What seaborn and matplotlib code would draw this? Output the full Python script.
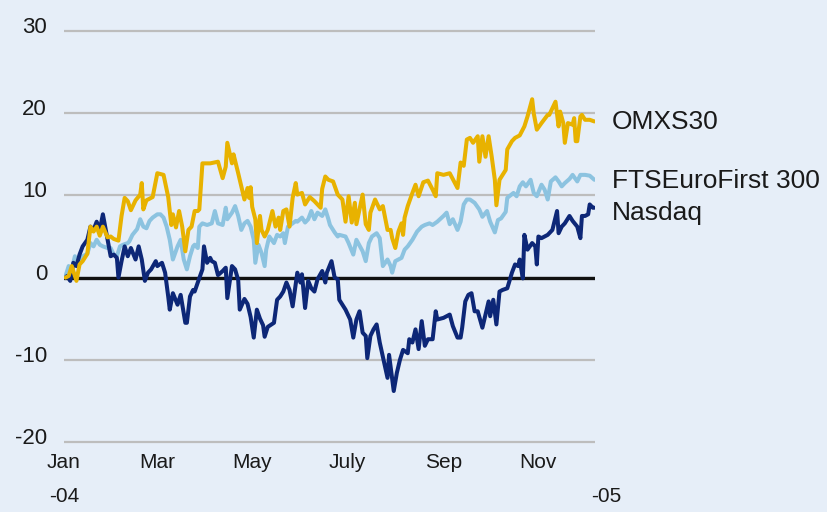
import numpy as np
import pandas as pd
import matplotlib
matplotlib.use("Agg")
import matplotlib.pyplot as plt
import seaborn as sns
from matplotlib.transforms import ScaledTranslation

# ---------------- data (percentage change since 1 Jan 2004; x = day of year) ----------------
series_names = ["OMXS30", "FTSEuroFirst 300", "Nasdaq"]

omx_day = [1, 3, 5, 8, 10, 12, 15, 17, 19, 21,
           23, 25, 28, 30, 32, 35, 37, 39, 41, 43,
           46, 49, 50, 51, 53, 57, 60, 64, 67, 69,
           70, 72, 74, 76, 78, 80, 82, 84, 86, 87,
           89, 94, 99, 102, 104, 105, 108, 109, 112, 114,
           116, 118, 119, 120, 121, 123, 124, 126, 127, 129,
           131, 134, 136, 138, 139, 141, 143, 145, 147, 149,
           150, 153, 155, 158, 161, 165, 166, 168, 170, 173,
           176, 179, 181, 183, 185, 187, 188, 192, 194, 196,
           197, 200, 203, 205, 208, 210, 211, 213, 215, 217,
           218, 219, 221, 224, 226, 228, 231, 234, 237, 239,
           240, 244, 248, 253, 255, 257, 259, 261, 263, 266,
           267, 269, 271, 273, 275, 277, 278, 280, 284, 285,
           288, 290, 293, 296, 298, 301, 302, 304, 307, 311,
           312, 316, 318, 319, 321, 322, 324, 327, 328, 329,
           330, 332, 333, 335, 338, 341]
omx_val = [0.0, 0.2, 1.4, -0.4, 1.6, 2.0, 2.9, 6.2, 5.6, 6.2,
           5.1, 6.2, 4.9, 5.0, 4.7, 4.5, 7.5, 9.7, 9.3, 8.2,
           9.4, 10.1, 11.5, 8.3, 9.4, 9.8, 12.7, 12.5, 9.8, 6.4,
           7.7, 6.1, 8.1, 6.2, 3.2, 5.8, 6.2, 8.1, 8.1, 8.3,
           13.9, 13.9, 14.1, 12.1, 13.5, 16.4, 13.9, 15.0, 12.7, 11.1,
           9.5, 10.9, 9.7, 11.0, 8.6, 7.1, 4.2, 7.5, 5.8, 5.0,
           5.8, 8.1, 6.2, 7.3, 5.8, 8.1, 8.3, 6.2, 9.7, 11.5,
           10.1, 10.3, 8.9, 9.8, 9.3, 8.5, 10.8, 12.3, 11.9, 11.7,
           10.1, 9.5, 6.8, 9.9, 6.7, 9.1, 6.5, 10.1, 6.5, 5.8,
           7.9, 9.5, 8.3, 8.7, 5.8, 5.8, 4.8, 3.6, 5.6, 6.6,
           5.2, 7.3, 8.7, 10.3, 11.3, 9.9, 11.6, 11.8, 10.7, 9.9,
           12.7, 12.5, 12.7, 10.9, 14.0, 13.6, 16.8, 17.0, 16.4, 17.2,
           14.1, 17.2, 14.7, 17.2, 14.7, 11.9, 8.8, 11.9, 13.1, 15.6,
           16.6, 17.0, 17.3, 18.4, 19.6, 21.7, 20.0, 18.0, 18.8, 19.8,
           19.8, 21.4, 18.4, 20.2, 18.8, 16.4, 18.8, 18.6, 19.4, 16.6,
           16.6, 19.6, 19.8, 19.2, 19.2, 19.0]

ftse_day = [1, 3, 5, 7, 8, 10, 12, 15, 17, 19,
            21, 23, 25, 28, 30, 32, 34, 36, 38, 41,
            42, 44, 47, 49, 51, 53, 55, 57, 60, 62,
            64, 66, 68, 70, 73, 75, 77, 79, 81, 83,
            84, 86, 87, 89, 92, 95, 97, 99, 102, 104,
            105, 108, 110, 112, 114, 116, 118, 120, 122, 123,
            125, 127, 129, 130, 132, 135, 137, 139, 141, 142,
            144, 147, 149, 150, 153, 155, 157, 159, 161, 163,
            166, 168, 170, 171, 174, 176, 177, 181, 183, 186,
            188, 192, 194, 196, 198, 201, 203, 205, 208, 210,
            211, 213, 215, 217, 219, 221, 224, 227, 230, 232,
            235, 237, 240, 244, 246, 248, 250, 253, 255, 257,
            259, 261, 264, 267, 269, 272, 274, 277, 279, 281,
            284, 285, 289, 291, 293, 295, 297, 300, 302, 304,
            307, 309, 311, 313, 316, 318, 320, 322, 325, 327,
            330, 332, 335, 338, 341]
ftse_val = [0.2, 1.4, 1.0, 2.6, 1.8, 2.0, 2.6, 2.9, 4.2, 3.8,
            4.6, 4.0, 3.8, 3.6, 3.6, 2.8, 2.6, 3.8, 4.0, 4.2,
            4.4, 5.2, 5.9, 7.1, 6.2, 6.0, 6.9, 7.3, 7.7, 7.7,
            7.3, 6.2, 4.6, 2.2, 3.8, 4.6, 2.2, 1.0, 2.6, 3.8,
            4.0, 3.6, 6.2, 6.6, 6.4, 6.6, 8.1, 6.6, 6.4, 8.5,
            7.1, 7.9, 8.7, 7.5, 5.8, 6.6, 6.9, 6.2, 4.6, 1.8,
            4.0, 3.0, 1.4, 3.4, 5.0, 4.2, 5.2, 5.0, 5.4, 4.2,
            6.2, 6.6, 6.9, 6.8, 7.3, 6.7, 7.1, 8.1, 7.1, 7.9,
            7.5, 8.3, 7.1, 6.4, 5.5, 5.0, 5.2, 5.0, 4.2, 2.8,
            4.6, 3.2, 2.0, 4.2, 5.0, 5.4, 4.8, 1.4, 2.2, 1.4,
            0.6, 2.0, 2.2, 2.4, 3.4, 3.8, 4.6, 5.6, 6.2, 6.4,
            6.6, 6.4, 6.8, 7.5, 7.9, 6.5, 7.1, 5.8, 6.8, 8.9,
            9.5, 9.5, 9.1, 8.3, 7.4, 8.1, 6.8, 5.5, 7.0, 7.2,
            8.0, 9.7, 10.3, 9.9, 11.1, 11.6, 11.1, 11.9, 10.3, 9.9,
            11.3, 10.7, 9.5, 11.7, 12.2, 11.7, 11.1, 11.5, 12.0, 12.5,
            11.7, 12.5, 12.5, 12.4, 11.9]

nas_day = [1, 2, 4, 6, 8, 10, 12, 15, 17, 19,
           21, 23, 25, 28, 30, 32, 34, 35, 37, 39,
           41, 43, 46, 48, 50, 52, 54, 56, 59, 60,
           63, 65, 67, 68, 70, 73, 75, 78, 79, 81,
           83, 84, 86, 89, 90, 92, 94, 95, 97, 99,
           102, 104, 105, 108, 110, 112, 113, 116, 118, 120,
           122, 124, 126, 128, 129, 131, 135, 137, 139, 141,
           143, 145, 147, 150, 152, 153, 155, 157, 159, 161,
           163, 166, 168, 169, 172, 174, 176, 177, 181, 184,
           186, 188, 190, 192, 194, 195, 197, 199, 201, 203,
           205, 208, 209, 212, 214, 216, 218, 221, 222, 224,
           226, 228, 230, 232, 234, 237, 239, 240, 244, 246,
           248, 250, 253, 255, 256, 258, 260, 262, 264, 266,
           269, 271, 273, 274, 276, 278, 280, 282, 285, 288,
           290, 292, 293, 295, 296, 298, 301, 303, 304, 305,
           307, 309, 311, 312, 314, 317, 318, 320, 322, 325,
           327, 330, 332, 333, 335, 337, 338, 340, 341]
nas_val = [0.0, 0.2, -0.4, 1.8, 1.4, 2.8, 3.8, 4.6, 6.2, 5.8,
           6.8, 5.8, 7.7, 4.6, 2.6, 2.8, 2.4, 0.0, 2.0, 3.8,
           2.6, 3.6, 2.2, 3.8, 2.2, -0.4, 0.6, 1.0, 2.0, 1.4,
           1.8, 0.6, -2.3, -3.9, -1.9, -3.3, -2.1, -5.5, -5.5, -2.3,
           -1.5, -1.7, -0.6, 1.0, 3.8, 1.8, 2.4, 2.0, 1.8, 0.3,
           0.8, 1.2, -2.5, 1.4, 1.0, -0.3, -3.9, -2.6, -3.2, -4.8,
           -7.3, -3.9, -5.0, -5.8, -7.2, -6.0, -5.5, -2.7, -2.3, -1.7,
           -0.6, -1.5, -3.5, 0.6, -0.6, 0.4, -3.7, -0.4, -1.3, -1.7,
           -0.2, 0.8, -0.6, 0.6, 2.0, 0.0, -0.2, -2.7, -3.9, -5.1,
           -7.3, -5.1, -4.1, -6.7, -7.1, -9.8, -7.1, -6.3, -5.7, -7.9,
           -9.6, -12.2, -9.4, -13.8, -11.6, -10.0, -8.8, -9.2, -7.5, -7.9,
           -6.3, -8.7, -5.3, -8.3, -7.5, -7.5, -4.1, -5.1, -4.9, -4.7,
           -4.5, -5.9, -7.3, -7.3, -6.1, -2.9, -2.1, -1.9, -4.1, -4.1,
           -6.1, -4.5, -2.9, -4.7, -2.7, -5.7, -1.7, -1.5, -1.3, 0.6,
           1.6, 1.4, 2.2, -0.1, 5.2, 3.4, 4.2, 3.8, 1.6, 5.0,
           4.8, 5.0, 5.2, 5.4, 5.8, 8.1, 5.4, 6.2, 6.6, 7.5,
           6.9, 6.2, 4.8, 7.5, 7.5, 7.7, 8.9, 8.5, 8.5]

month_ticks = [0, 60, 121, 182, 244, 305]
month_labels = ["Jan", "Mar", "May", "July", "Sep", "Nov"]
y_ticks = [-20, -10, 0, 10, 20, 30]
year_start_label = "-04"
year_end_label = "-05"

# ---------------- styling ----------------
BG = "#E6EEF8"
TXT = "#1A1A1A"
palette = {"OMXS30": "#E8B200", "FTSEuroFirst 300": "#8CC3E0", "Nasdaq": "#0D2777"}

sns.set_theme(style="white")
plt.rcParams["font.family"] = ["Liberation Sans", "DejaVu Sans"]

W, H = 827, 512
fig = plt.figure(figsize=(W / 100, H / 100), dpi=100, facecolor=BG)
x0, x1 = 64, 595
ytop, ybot = 29.4, 443.6
ax = fig.add_axes([x0 / W, 1 - ybot / H, (x1 - x0) / W, (ybot - ytop) / H])
ax.set_facecolor(BG)

df = pd.concat([
    pd.DataFrame({"day": omx_day, "value": omx_val, "series": "OMXS30"}),
    pd.DataFrame({"day": ftse_day, "value": ftse_val, "series": "FTSEuroFirst 300"}),
    pd.DataFrame({"day": nas_day, "value": nas_val, "series": "Nasdaq"}),
], ignore_index=True)

ax.axhline(0, color="#111111", linewidth=2.4, zorder=2)
sns.lineplot(data=df, x="day", y="value", hue="series",
             hue_order=["FTSEuroFirst 300", "Nasdaq", "OMXS30"],
             palette=palette, estimator=None, linewidth=2.9, legend=False,
             ax=ax, zorder=3)

ax.set_xlim(0, 341.4)
ax.set_ylim(-20.2, 30.2)
ax.set_xlabel("")
ax.set_ylabel("")
for s in ax.spines.values():
    s.set_visible(False)

ax.set_yticks(y_ticks)
ax.set_yticklabels([str(v) for v in y_ticks])
ax.yaxis.grid(True, color="#BDBDBD", linewidth=1.6, zorder=1)
ax.xaxis.grid(False)
ax.set_axisbelow(True)
ax.tick_params(axis="y", length=0, pad=12.2, labelsize=16, labelcolor=TXT)
for lab in ax.get_yticklabels():
    lab.set_verticalalignment("baseline")
    lab.set_transform(lab.get_transform() + ScaledTranslation(0, -2 / 100, fig.dpi_scale_trans))

ax.set_xticks(month_ticks)
ax.set_xticklabels(month_labels)
ax.tick_params(axis="x", length=0, pad=6.8, labelsize=15, labelcolor=TXT)

fig.text(64 / W, 1 - 497 / H, year_start_label, ha="center", va="center", fontsize=15, color=TXT)
fig.text(606 / W, 1 - 497 / H, year_end_label, ha="center", va="center", fontsize=15, color=TXT)

# end-of-line labels
for name, base in zip(series_names, [129, 188, 220]):
    fig.text(612 / W, 1 - base / H, name, ha="left", va="baseline", fontsize=19, color=TXT)

fig.savefig("out.png", dpi=100, facecolor=BG)
